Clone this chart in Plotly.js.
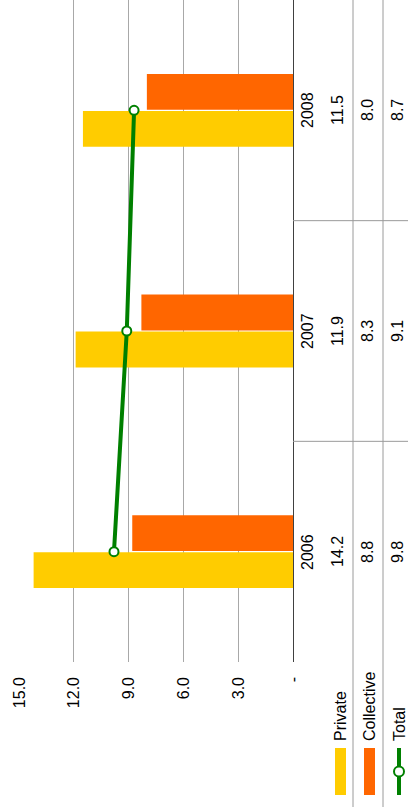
<!DOCTYPE html>
<html>
<head>
<meta charset="utf-8">
<script src="https://cdn.plot.ly/plotly-3.0.1.min.js"></script>
<style>
html,body{margin:0;padding:0;overflow:hidden;background:#fff;width:408px;height:807px;}
#wrap{position:absolute;left:0;top:0;width:807px;height:408px;transform-origin:0 0;transform:translateY(807px) rotate(-90deg);}
</style>
</head>
<body>
<div id="wrap"><div id="chart"></div></div>
<script>
const categories = ['2006', '2007', '2008'];
const privateVals = [14.2, 11.9, 11.5];
const collectiveVals = [8.8, 8.3, 8.0];
const totalVals = [9.8, 9.1, 8.7];
const seriesNames = ['Private', 'Collective', 'Total'];
const seriesColors = ['#FFCC00', '#FF6600', '#008000'];
const tickVals = [0, 3, 6, 9, 12, 15];

const W = 807, H = 408, L = 145, R = 0, T = 19, B = 115;
const PW = W - L - R, PH = H - T - B;
const X = px => (px - L) / PW;          // pixel -> paper x
const Y = py => (H - B - py) / PH;      // pixel -> paper y
const FONT = 'Liberation Sans, Arial, sans-serif';
const font = {family: FONT, size: 16, color: '#000'};

const traces = [
  {type: 'bar', name: seriesNames[0], x: categories, y: privateVals,
   marker: {color: seriesColors[0]}, showlegend: false, hoverinfo: 'none'},
  {type: 'bar', name: seriesNames[1], x: categories, y: collectiveVals,
   marker: {color: seriesColors[1]}, showlegend: false, hoverinfo: 'none'},
  {type: 'scatter', mode: 'lines+markers', name: seriesNames[2], x: categories, y: totalVals,
   line: {color: seriesColors[2], width: 4},
   marker: {symbol: 'circle', size: 9, color: '#fff', line: {color: seriesColors[2], width: 2}},
   showlegend: false, hoverinfo: 'none', cliponaxis: false}
];

const rowY = [307.5, 337.5, 367, 397];      // table row centres (px)
const legY = [340, 369.5, 399];             // legend row centres (px)
const annotations = [];
const rows = [categories, privateVals.map(v => v.toFixed(1)), collectiveVals.map(v => v.toFixed(1)), totalVals.map(v => v.toFixed(1))];
rows.forEach((row, r) => {
  row.forEach((txt, i) => {
    annotations.push({x: i, xref: 'x', y: Y(rowY[r]), yref: 'paper',
      text: txt, showarrow: false, xanchor: 'center', yanchor: 'middle', font: font});
  });
});
seriesNames.forEach((n, i) => {
  annotations.push({x: X(64), xref: 'paper', y: Y(legY[i]), yref: 'paper', text: n,
    showarrow: false, xanchor: 'left', yanchor: 'middle', font: font});
});

const grey = '#9A9A9A';
const shapes = [
  {type: 'line', xref: 'paper', yref: 'paper', x0: X(0), x1: X(W), y0: Y(353), y1: Y(353), line: {color: grey, width: 1}},
  {type: 'line', xref: 'paper', yref: 'paper', x0: X(0), x1: X(W), y0: Y(383), y1: Y(383), line: {color: grey, width: 1}},
  {type: 'line', xref: 'x', yref: 'paper', x0: 0.5, x1: 0.5, y0: 0, y1: Y(H + 5), line: {color: grey, width: 1}},
  {type: 'line', xref: 'x', yref: 'paper', x0: 1.5, x1: 1.5, y0: 0, y1: Y(H + 5), line: {color: grey, width: 1}},
  {type: 'rect', xref: 'paper', yref: 'paper', x0: X(12), x1: X(59), y0: Y(335), y1: Y(346), fillcolor: seriesColors[0], line: {width: 0}},
  {type: 'rect', xref: 'paper', yref: 'paper', x0: X(12), x1: X(59), y0: Y(364), y1: Y(375), fillcolor: seriesColors[1], line: {width: 0}},
  {type: 'line', xref: 'paper', yref: 'paper', x0: X(12), x1: X(59), y0: Y(399), y1: Y(399), line: {color: seriesColors[2], width: 4}},
  {type: 'circle', xref: 'paper', yref: 'paper', x0: X(35.5 - 5), x1: X(35.5 + 5), y0: Y(399 - 5), y1: Y(399 + 5), fillcolor: '#fff', line: {color: seriesColors[2], width: 2}}
];

const layout = {
  width: W, height: H,
  margin: {l: L, r: R, t: T, b: B, pad: 0},
  paper_bgcolor: '#fff', plot_bgcolor: '#fff',
  font: font,
  barmode: 'group', bargap: 0.665, bargroupgap: 0.03,
  showlegend: false,
  xaxis: {type: 'category', categoryarray: categories, categoryorder: 'array', range: [-0.5, categories.length - 0.5], autorange: false,
          showticklabels: false, ticks: '', showgrid: false, zeroline: false,
          showline: true, linecolor: '#404040', linewidth: 1, fixedrange: true},
  yaxis: {range: [0, 15], autorange: false, tickvals: tickVals, ticktext: tickVals.map(v => v === 0 ? '-' : v.toFixed(1)),
          showgrid: true, gridcolor: '#A8A8A8', gridwidth: 1, zeroline: false, showline: false,
          ticks: '', ticklabelstandoff: 14, tickfont: font, fixedrange: true},
  annotations: annotations,
  shapes: shapes
};

Plotly.newPlot('chart', traces, layout, {staticPlot: true, displayModeBar: false});
</script>
</body>
</html>
